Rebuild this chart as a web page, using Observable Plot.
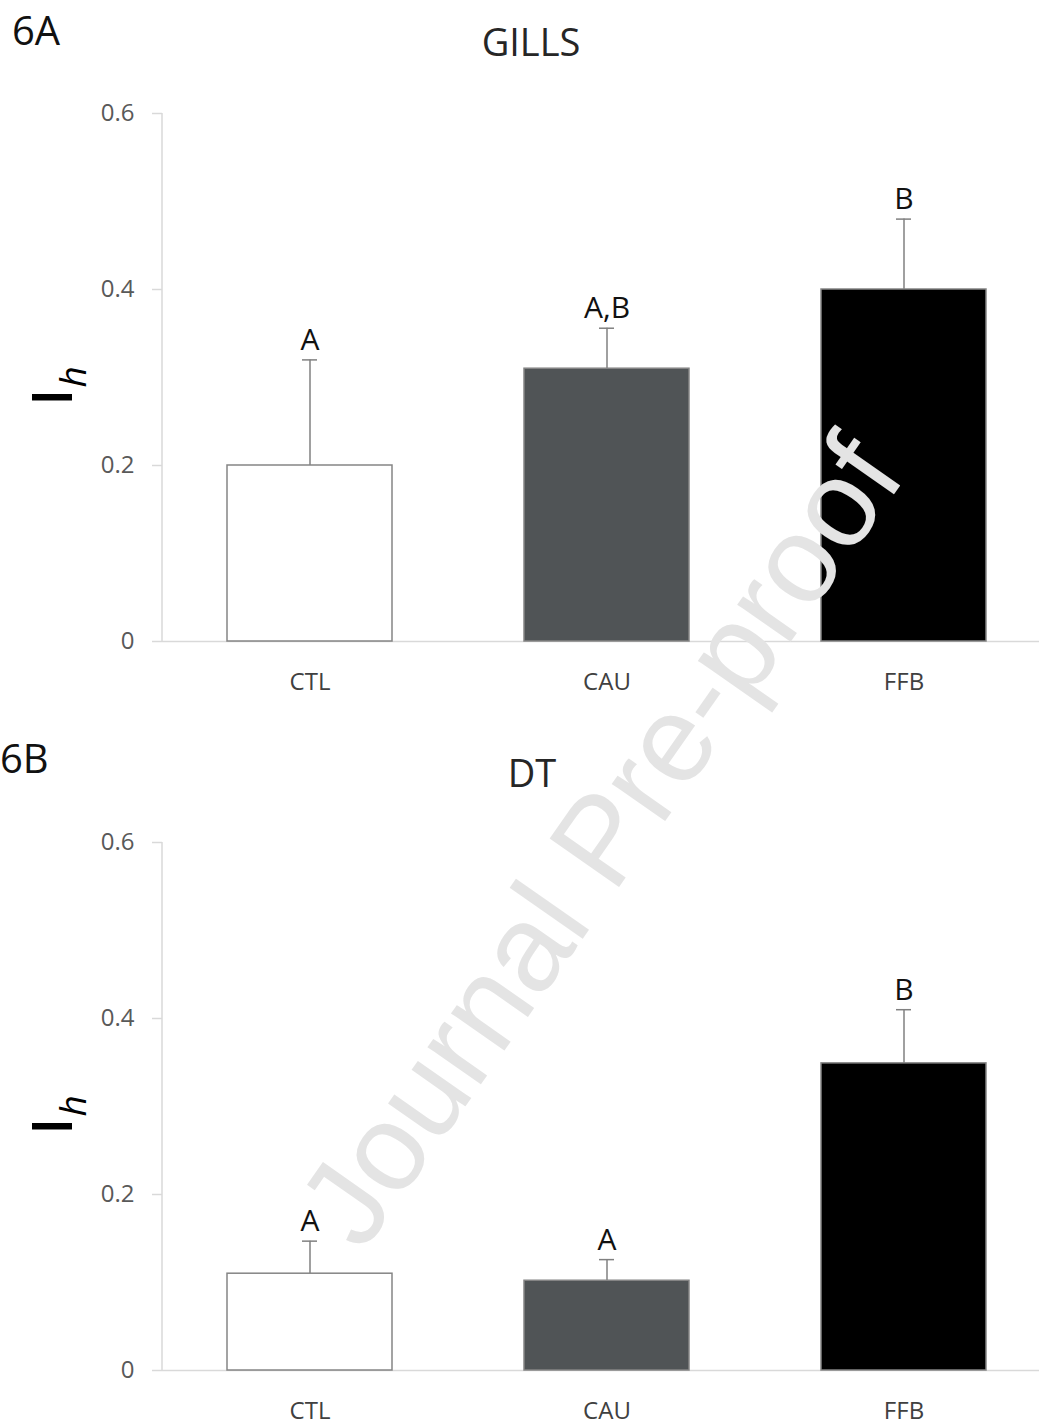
<!DOCTYPE html>
<html>
<head>
<meta charset="utf-8">
<script src="https://cdn.jsdelivr.net/npm/d3@7"></script>
<script src="https://cdn.jsdelivr.net/npm/@observablehq/plot@0.6"></script>
<style>
  html, body { margin: 0; padding: 0; background: #fff; overflow: hidden; }
  #page { position: relative; width: 1039px; height: 1426px; font-family: "Open Sans", sans-serif; }
  .panel { position: absolute; left: 0; }
  #overlay { position: absolute; left: 0; top: 0; pointer-events: none; }
</style>
</head>
<body>
<div id="page">
  <div class="panel" id="panelA" style="top:0px"></div>
  <div class="panel" id="panelB" style="top:729px"></div>
</div>
<script>
// ---- data ----
const categories = ["CTL", "CAU", "FFB"];
const yTicks = [0, 0.2, 0.4, 0.6];

const gillsValues = [0.200, 0.310, 0.400];
const gillsErrors = [0.120, 0.046, 0.080];
const gillsLetters = ["A", "A,B", "B"];

const dtValues = [0.110, 0.102, 0.349];
const dtErrors = [0.037, 0.024, 0.061];
const dtLetters = ["A", "A", "B"];

const panelTitles = ["GILLS", "DT"];
const panelTags = ["6A", "6B"];
const watermarkText = "Journal Pre-proof";

// ---- styles ----
const barColors = ["#ffffff", "#505456", "#000000"];
const axisGray = "#d9d9d9";
const svgNS = "http://www.w3.org/2000/svg";

function makePanel(values, errors, letters) {
  const rows = categories.map((c, i) => ({cat: c, value: values[i], err: errors[i], letter: letters[i]}));
  const top = d => d.value + d.err;
  const yAxisLine = (index, scales, vals, dims) => {
    const l = document.createElementNS(svgNS, "line");
    l.setAttribute("x1", dims.marginLeft);
    l.setAttribute("x2", dims.marginLeft);
    l.setAttribute("y1", dims.marginTop);
    l.setAttribute("y2", dims.height - dims.marginBottom);
    l.setAttribute("stroke", axisGray);
    l.setAttribute("stroke-width", 1.5);
    return l;
  };
  const svg = Plot.plot({
    width: 1039,
    height: 697,
    marginLeft: 162,
    marginRight: 0,
    marginTop: 113,
    marginBottom: 56,
    style: {fontFamily: "Open Sans", fontSize: "24px", background: "transparent"},
    x: {domain: categories, range: [162, 1052], paddingInner: 0.444, paddingOuter: 0.219, label: null, axis: null},
    y: {domain: [0, 0.6], label: null, axis: null},
    color: {domain: categories, range: barColors},
    marks: [
      Plot.axisY({ticks: yTicks, tickSize: 10, tickPadding: 18, stroke: axisGray, fill: "#595959",
                  strokeWidth: 1.5, fontSize: 24, tickFormat: d => d === 0 ? "0" : d.toFixed(1), label: null}),
      Plot.axisX({tickSize: 0, tickPadding: 31, fill: "#404040", fontSize: 24, label: null}),
      yAxisLine,
      Plot.ruleY([0], {stroke: axisGray, strokeWidth: 1.5}),
      Plot.ruleX(rows, {x: "cat", y1: "value", y2: top, stroke: "#808080", strokeWidth: 1.5}),
      Plot.tickY(rows, {x: "cat", y: top, insetLeft: 75, insetRight: 75, stroke: "#808080", strokeWidth: 1.5}),
      Plot.barY(rows, {x: "cat", y: "value", fill: "cat", stroke: "#858585", strokeWidth: 1.5}),
      Plot.text(rows, {x: "cat", y: top, text: "letter", lineAnchor: "bottom", dy: -10,
                       fontSize: 30, fontWeight: 500, fill: "#111111"})
    ]
  });
  // y-axis label: I with italic subscript h
  const t = document.createElementNS(svgNS, "text");
  t.setAttribute("transform", "translate(72,386) rotate(-90)");
  t.setAttribute("font-family", "Open Sans");
  t.setAttribute("fill", "#000");
  const s1 = document.createElementNS(svgNS, "tspan");
  s1.setAttribute("font-size", 56);
  s1.setAttribute("font-weight", 600);
  s1.textContent = "I";
  const s2 = document.createElementNS(svgNS, "tspan");
  s2.setAttribute("font-size", 37);
  s2.setAttribute("font-style", "italic");
  s2.setAttribute("dy", 14);
  s2.setAttribute("dx", 1);
  s2.textContent = "h";
  t.appendChild(s1); t.appendChild(s2);
  svg.appendChild(t);
  return svg;
}

document.getElementById("panelA").appendChild(makePanel(gillsValues, gillsErrors, gillsLetters));
document.getElementById("panelB").appendChild(makePanel(dtValues, dtErrors, dtLetters));

// overlay: titles, panel tags and watermark
const ov = d3.select("#page").append("svg")
  .attr("id", "overlay").attr("width", 1039).attr("height", 1426);
const titlePos = [{x: 531, y: 56}, {x: 532, y: 787}];
const tagPos = [{x: 12, y: 45}, {x: 0, y: 773}];
panelTitles.forEach((t, i) => {
  ov.append("text").attr("x", titlePos[i].x).attr("y", titlePos[i].y)
    .attr("text-anchor", "middle").attr("font-family", "Open Sans").attr("font-size", 38)
    .attr("fill", "#262626").text(t);
});
panelTags.forEach((t, i) => {
  ov.append("text").attr("x", tagPos[i].x).attr("y", tagPos[i].y)
    .attr("font-family", "Open Sans").attr("font-size", 40)
    .attr("fill", "#111").text(t);
});
ov.append("text")
  .attr("transform", "translate(600,840) rotate(-55)")
  .attr("text-anchor", "middle").attr("dominant-baseline", "central")
  .attr("font-family", "Liberation Sans").attr("font-size", 123)
  .attr("fill", "#e4e4e4").text(watermarkText);
</script>
</body>
</html>
